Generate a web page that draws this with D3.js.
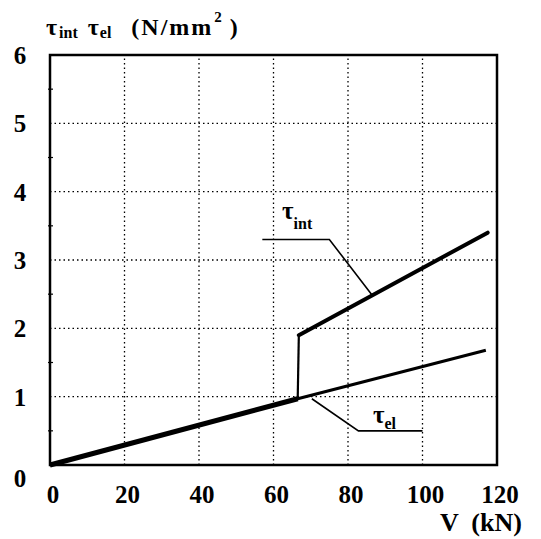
<!DOCTYPE html>
<html>
<head>
<meta charset="utf-8">
<script src="https://cdn.jsdelivr.net/npm/d3@7"></script>
<style>
  body { margin: 0; background: #fff; }
  text { font-family: "Liberation Serif", "DejaVu Serif", serif; font-weight: bold; fill: #000; }
</style>
</head>
<body>
<svg id="chart" width="541" height="539"></svg>
<script>
(function() {

// Data
var xTicks = [0, 20, 40, 60, 80, 100, 120];
var yTicks = [0, 1, 2, 3, 4, 5, 6];
var elV   = [0, 66.5, 117];
var elTau = [0, 0.97, 1.68];
var intV   = [0, 66.5, 66.8, 117.5];
var intTau = [0, 0.97, 1.90, 3.40];
// leader lines for the two labels
var intLeadV = [57, 75, 86.7];
var intLeadT = [3.30, 3.30, 2.47];
var elLeadV = [70.3, 82.8, 100];
var elLeadT = [0.97, 0.50, 0.50];

var margin = {left: 50, right: 44, top: 55, bottom: 74};
var width = 541, height = 539;

const svg = d3.select("#chart");

var x = d3.scaleLinear().domain([0, 120]).range([margin.left, width - margin.right]);
var y = d3.scaleLinear().domain([0, 6]).range([height - margin.bottom, margin.top]);

// dotted grid
svg.selectAll("line.gx")
  .data(xTicks.slice(1, -1))
  .enter().append("line")
  .attr("x1", d => x(d)).attr("x2", d => x(d))
  .attr("y1", y(0)).attr("y2", y(6))
  .attr("stroke", "#000").attr("stroke-width", 1.3)
  .attr("stroke-dasharray", "1.5,3");

svg.selectAll("line.gy")
  .data(yTicks.slice(1, -1))
  .enter().append("line")
  .attr("x1", x(0)).attr("x2", x(120))
  .attr("y1", d => y(d)).attr("y2", d => y(d))
  .attr("stroke", "#000").attr("stroke-width", 1.3)
  .attr("stroke-dasharray", "1.5,3");

// frame
svg.append("rect")
  .attr("x", x(0)).attr("y", y(6))
  .attr("width", x(120) - x(0)).attr("height", y(0) - y(6))
  .attr("fill", "none").attr("stroke", "#000").attr("stroke-width", 2.5);

// small minor ticks on the left axis
svg.selectAll("line.my")
  .data(d3.range(0.5, 6, 1))
  .enter().append("line")
  .attr("x1", x(0) - 2).attr("x2", x(0) + 3)
  .attr("y1", d => y(d)).attr("y2", d => y(d))
  .attr("stroke", "#000").attr("stroke-width", 1.2);

// tick labels
svg.selectAll("text.xt")
  .data(xTicks)
  .enter().append("text")
  .attr("x", d => x(d) + 3).attr("y", y(0) + 38)
  .attr("text-anchor", "middle")
  .attr("font-size", "25px")
  .text(d => d);

svg.selectAll("text.yt")
  .data(yTicks)
  .enter().append("text")
  .attr("x", 20).attr("y", d => d === 0 ? y(d) + 22 : y(d) + 9)
  .attr("text-anchor", "middle")
  .attr("font-size", "25px")
  .text(d => d);

// axis titles
var yt = svg.append("text").attr("x", 46).attr("y", 35).attr("font-size", "24px");
yt.append("tspan").text("τ");
yt.append("tspan").attr("font-size", "16px").attr("dy", 3).attr("dx", 2).text("int");
yt.append("tspan").attr("dy", -3).attr("dx", 10).text("τ");
yt.append("tspan").attr("font-size", "16px").attr("dy", 3).attr("dx", 1).text("el");
yt.append("tspan").attr("dy", -3).attr("dx", 20).attr("letter-spacing", "2").text("(N/mm");
yt.append("tspan").attr("font-size", "15px").attr("dy", -13).attr("dx", 1).text("2");
yt.append("tspan").attr("dy", 13).attr("dx", 8).text(")");

svg.append("text").attr("x", 440).attr("y", 531).attr("font-size", "26px")
  .attr("xml:space", "preserve").text("V  (kN)");

// curves
var line = d3.line().x(d => x(d[0])).y(d => y(d[1]));
var intPts = d3.zip(intV, intTau);

svg.append("path")
  .attr("d", line(d3.zip(elV, elTau)))
  .attr("fill", "none").attr("stroke", "#000").attr("stroke-width", 3);

// thin vertical jump, thick sloped parts
svg.append("path")
  .attr("d", line(intPts.slice(1, 3)))
  .attr("fill", "none").attr("stroke", "#000").attr("stroke-width", 2.2);

svg.append("path")
  .attr("d", line(intPts.slice(2)))
  .attr("fill", "none").attr("stroke", "#000").attr("stroke-width", 4)
  .attr("stroke-linecap", "round");

svg.append("path")
  .attr("d", line(intPts.slice(0, 2)))
  .attr("fill", "none").attr("stroke", "#000").attr("stroke-width", 5);

// leader lines
[[intLeadV, intLeadT], [elLeadV, elLeadT]].forEach(function(p) {
  svg.append("path")
    .attr("d", line(d3.zip(p[0], p[1])))
    .attr("fill", "none").attr("stroke", "#000").attr("stroke-width", 1.6);
});

// labels
var li = svg.append("text").attr("x", x(62.3)).attr("y", y(3.6)).attr("font-size", "25px");
li.append("tspan").text("τ");
li.append("tspan").attr("font-size", "16px").attr("dy", 10).text("int");

var le = svg.append("text").attr("x", x(86.7)).attr("y", y(0.62)).attr("font-size", "25px");
le.append("tspan").text("τ");
le.append("tspan").attr("font-size", "16px").attr("dy", 6).text("el");

})();
</script>
</body>
</html>
